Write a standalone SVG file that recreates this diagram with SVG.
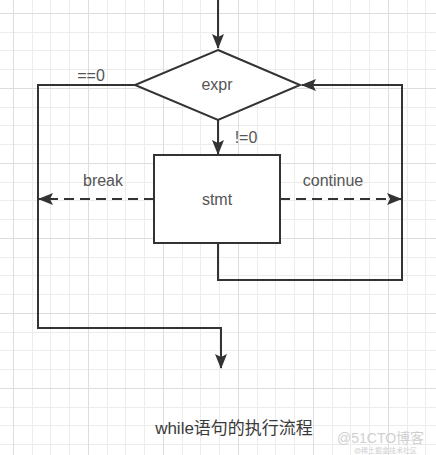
<svg xmlns="http://www.w3.org/2000/svg" width="436" height="455" viewBox="0 0 436 455">
<defs>
<style>
.minor{stroke:#ececec;stroke-width:1;fill:none}
.major{stroke:#dddddd;stroke-width:1;fill:none}
.shape{fill:#ffffff;stroke:#333333;stroke-width:2}
.edge{fill:none;stroke:#333333;stroke-width:2}
.dash{stroke-dasharray:10 6}
.lbl{font-family:"Liberation Sans",Arial,sans-serif;font-size:16px;fill:#555555}
.cap{font-family:"Liberation Sans","Noto Sans CJK SC",sans-serif;font-size:17px;fill:#3a3a3a}
.wm{font-family:"Liberation Sans","Noto Sans CJK SC",sans-serif;fill:#d0d0d0}
</style>
<marker id="arr" viewBox="0 0 15 12" refX="14" refY="6" markerWidth="15" markerHeight="12" markerUnits="userSpaceOnUse" orient="auto">
<path d="M0,0 L15,6 L0,12 L3,6 z" fill="#333333" stroke="none"/>
</marker>
</defs>
<rect width="436" height="455" fill="#ffffff"/>
<g id="grid">
<path class="minor" d="M32.5 0V455M50.5 0V455M69.5 0V455M107.5 0V455M125.5 0V455M144.5 0V455M182.5 0V455M200.5 0V455M219.5 0V455M257.5 0V455M275.5 0V455M294.5 0V455M332.5 0V455M350.5 0V455M369.5 0V455M407.5 0V455M425.5 0V455M0 32.5H436M0 50.5H436M0 69.5H436M0 107.5H436M0 125.5H436M0 144.5H436M0 182.5H436M0 200.5H436M0 219.5H436M0 257.5H436M0 275.5H436M0 294.5H436M0 332.5H436M0 350.5H436M0 369.5H436M0 407.5H436M0 425.5H436M0 444.5H436"/>
<path class="major" d="M13.5 0V455M88.5 0V455M163.5 0V455M238.5 0V455M313.5 0V455M388.5 0V455M0 13.5H436M0 88.5H436M0 163.5H436M0 238.5H436M0 313.5H436M0 388.5H436"/>
</g>
<g id="connectors">
<path class="edge" d="M218 0V48" marker-end="url(#arr)"/>
<path class="edge" d="M218 120V154" marker-end="url(#arr)"/>
<path class="edge" d="M135 85H38V328H221V368" marker-end="url(#arr)"/>
<path class="edge dash" d="M154 199H39" marker-end="url(#arr)"/>
<path class="edge dash" d="M280 199H401" marker-end="url(#arr)"/>
<path class="edge" d="M218 243V280H402V85H302" marker-end="url(#arr)"/>
<text class="lbl" x="91" y="81" text-anchor="middle">==0</text>
<text class="lbl" x="246" y="143" text-anchor="middle">!=0</text>
<text class="lbl" x="103" y="186" text-anchor="middle">break</text>
<text class="lbl" x="333" y="186" text-anchor="middle">continue</text>
</g>
<g id="expr">
<polygon class="shape" points="218,50 300,85 218,120 135,85"/>
<text class="lbl" x="217" y="90" text-anchor="middle">expr</text>
</g>
<g id="stmt">
<rect class="shape" x="154" y="155" width="126" height="88"/>
<text class="lbl" x="217" y="205" text-anchor="middle">stmt</text>
</g>
<g id="caption">
<text class="cap" x="234" y="434" text-anchor="middle">while语句的执行流程</text>
</g>
<g id="watermark">
<text class="wm" x="337" y="443" font-size="14">@51CTO博客</text>
<text class="wm" x="354" y="453" font-size="7">@稀土掘金技术社区</text>
</g>
</svg>
